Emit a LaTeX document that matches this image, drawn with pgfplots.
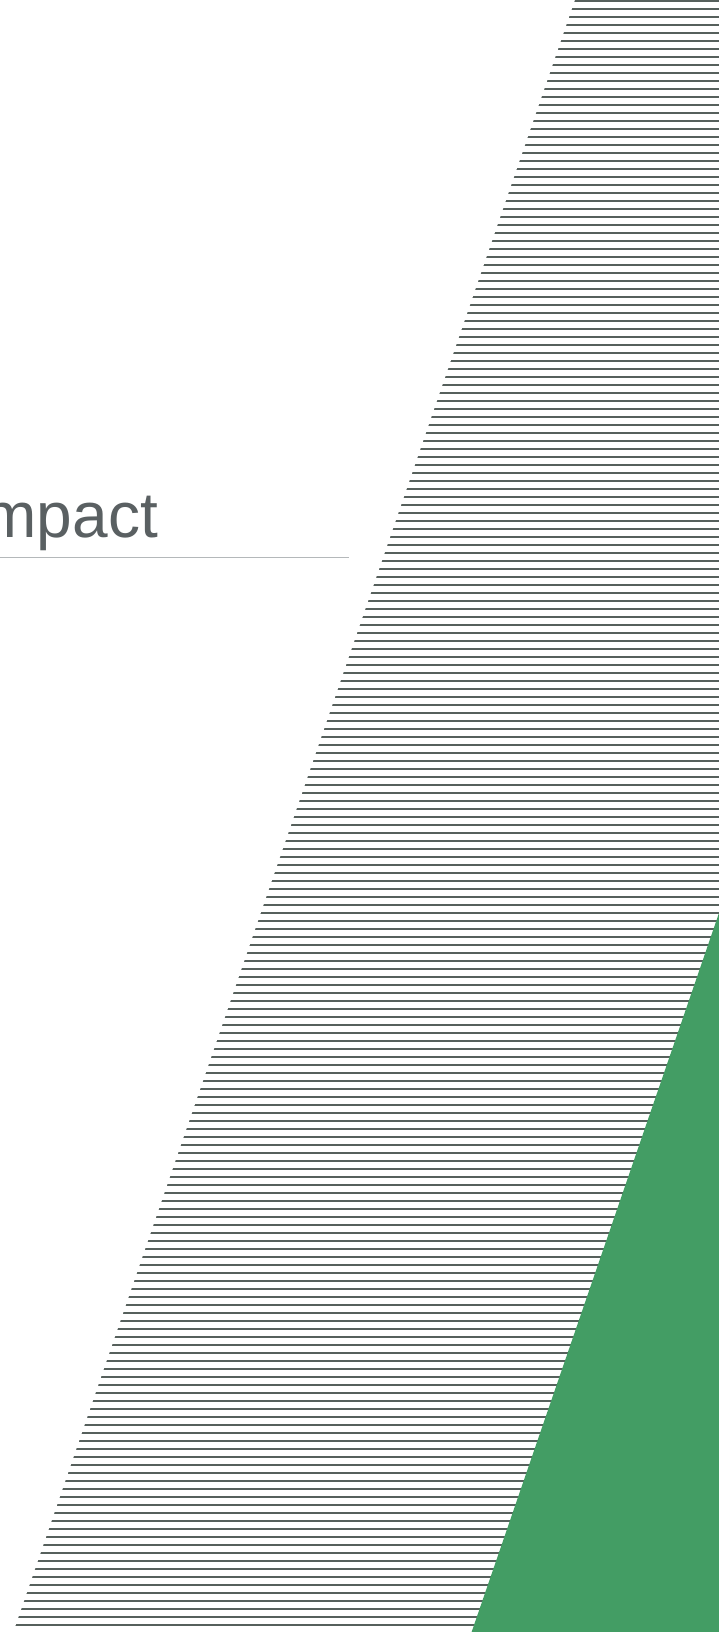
\documentclass[border=0pt]{standalone}
\usepackage{fontspec}
\setmainfont{Liberation Sans}
\usepackage{pgfplots}
\pgfplotsset{compat=1.18}

\definecolor{hatchgray}{HTML}{56605C}
\definecolor{slidegreen}{HTML}{439D64}
\definecolor{titlegray}{HTML}{5A6062}
\definecolor{rulegray}{HTML}{B4B8BA}

\begin{document}
\begin{tikzpicture}
\begin{axis}[
    at={(0,0)}, anchor=south west,
    width=719pt, height=1632pt, scale only axis,
    xmin=0, xmax=719, ymin=0, ymax=1632,
    y dir=reverse,
    axis line style={draw=none},
    xtick=\empty,
    ytick={1,9,...,1625},
    yticklabels={},
    major tick length=0pt,
    ymajorgrids,
    major grid style={hatchgray, line width=1.8pt},
]
    % blank out the stripes left of the slanted edge
    \addplot[draw=none, fill=white]
        coordinates {(-5,-5) (576.6,-5) (11.6,1637) (-5,1637)} -- cycle;
    % green wedge
    \addplot[draw=none, fill=slidegreen]
        coordinates {(719,913) (724,913) (724,1637) (469.9,1637)} -- cycle;
    % rule under the title
    \addplot[rulegray, line width=1.2pt] coordinates {(0,557.3) (349,557.3)};
    \node[anchor=base east, inner sep=0pt, text=titlegray,
        font=\fontsize{64}{64}\selectfont] at (axis cs:158,537.3) {Impact};
\end{axis}
\pgfresetboundingbox
\useasboundingbox (0,0) rectangle (719pt,1632pt);
\end{tikzpicture}
\end{document}
